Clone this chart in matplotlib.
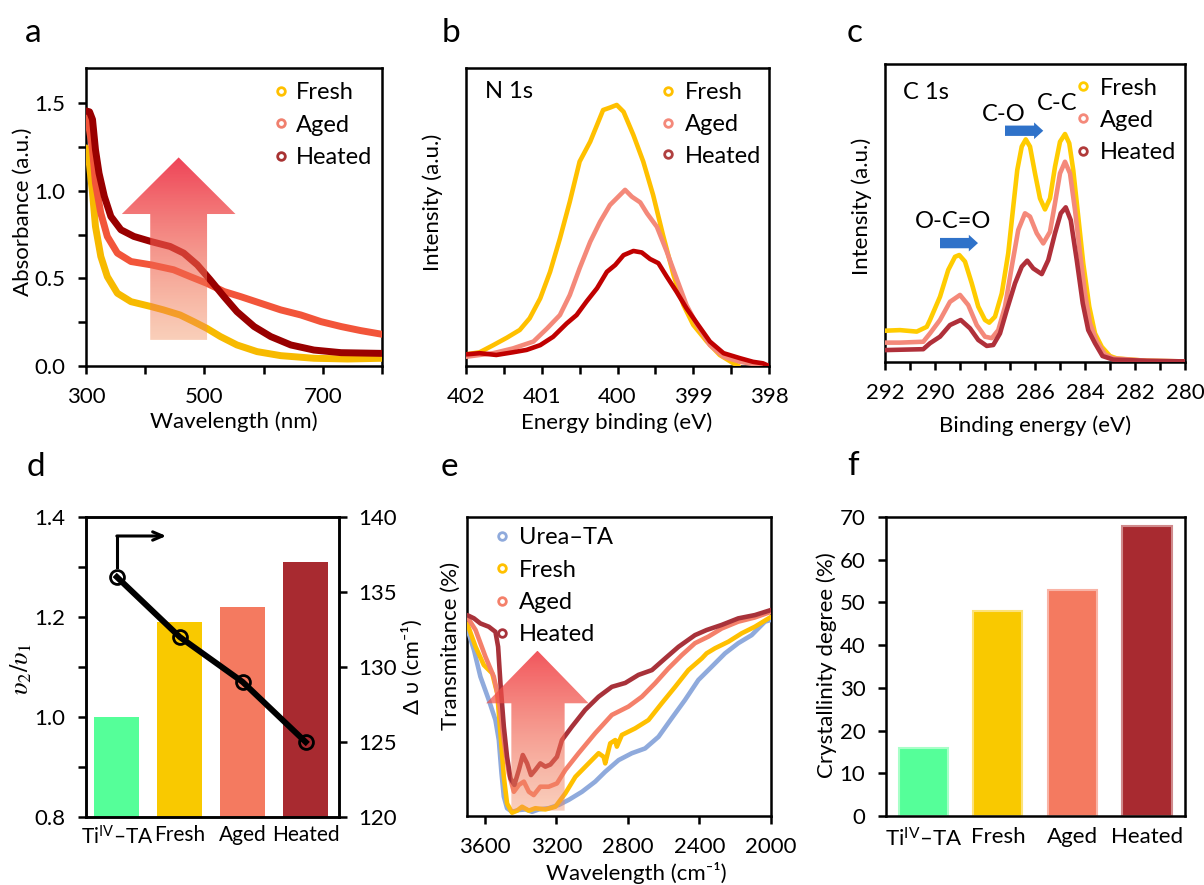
import numpy as np
import matplotlib
matplotlib.use('Agg')
import matplotlib.pyplot as plt
from matplotlib.patches import Polygon
from matplotlib.ticker import MultipleLocator, FixedLocator

plt.rcParams['font.family'] = ['Lato', 'DejaVu Sans']
plt.rcParams['mathtext.fontset'] = 'custom'
plt.rcParams['mathtext.rm'] = 'Lato'
plt.rcParams['mathtext.it'] = 'Lato:italic'
plt.rcParams['mathtext.bf'] = 'Lato:bold'

# ---------------- data ----------------
# (a) UV-vis absorbance
a_wl_fresh = [300, 305, 311, 316, 325, 336, 353, 376, 410, 431, 459, 482, 504, 527, 555, 589, 629, 685, 742, 800]
a_abs_fresh = [1.244, 1.177, 0.987, 0.796, 0.625, 0.51, 0.415, 0.367, 0.339, 0.32, 0.291, 0.253, 0.215, 0.168, 0.12, 0.082, 0.059, 0.044, 0.04, 0.044]
a_wl_aged = [300, 305, 311, 316, 325, 336, 353, 376, 410, 448, 476, 504, 533, 561, 595, 629, 663, 697, 731, 764, 800]
a_abs_aged = [1.425, 1.367, 1.234, 1.044, 0.872, 0.739, 0.644, 0.596, 0.577, 0.549, 0.51, 0.472, 0.425, 0.396, 0.358, 0.32, 0.291, 0.253, 0.225, 0.202, 0.181]
a_wl_heated = [300, 306, 311, 316, 322, 331, 342, 359, 381, 410, 442, 465, 488, 510, 533, 555, 584, 612, 646, 685, 731, 800]
a_abs_heated = [1.455, 1.45, 1.406, 1.234, 1.1, 0.967, 0.853, 0.777, 0.739, 0.71, 0.682, 0.644, 0.577, 0.491, 0.396, 0.31, 0.225, 0.168, 0.12, 0.091, 0.076, 0.072]

# (b) XPS N 1s
b_e_fresh = [402.0, 401.82, 401.64, 401.46, 401.29, 401.16, 401.02, 400.89, 400.76, 400.63, 400.5, 400.36, 400.27, 400.19, 400.1, 400.01, 399.92, 399.79, 399.66, 399.53, 399.4, 399.26, 399.13, 399.0, 398.82, 398.65, 398.47, 398.4]
b_i_fresh = [0.039, 0.046, 0.07, 0.095, 0.121, 0.16, 0.227, 0.316, 0.428, 0.551, 0.686, 0.753, 0.809, 0.859, 0.867, 0.876, 0.853, 0.775, 0.686, 0.574, 0.44, 0.305, 0.205, 0.138, 0.082, 0.037, 0.009, 0.0]
b_e_aged = [402.0, 401.64, 401.38, 401.11, 400.93, 400.76, 400.63, 400.5, 400.36, 400.23, 400.1, 399.99, 399.9, 399.81, 399.7, 399.61, 399.48, 399.35, 399.22, 399.09, 398.95, 398.78, 398.6, 398.38, 398.12, 398.0]
b_i_aged = [0.031, 0.043, 0.059, 0.082, 0.126, 0.171, 0.238, 0.328, 0.417, 0.484, 0.54, 0.568, 0.591, 0.568, 0.549, 0.512, 0.467, 0.384, 0.294, 0.205, 0.138, 0.07, 0.031, 0.014, 0.003, 0.0]
b_e_heated = [402.0, 401.82, 401.6, 401.38, 401.2, 401.02, 400.85, 400.67, 400.54, 400.41, 400.27, 400.14, 400.03, 399.92, 399.79, 399.68, 399.57, 399.46, 399.35, 399.22, 399.09, 398.95, 398.78, 398.6, 398.38, 398.21, 398.08, 398.0]
b_i_heated = [0.039, 0.043, 0.037, 0.046, 0.054, 0.07, 0.098, 0.143, 0.171, 0.216, 0.261, 0.316, 0.339, 0.372, 0.386, 0.381, 0.359, 0.345, 0.3, 0.249, 0.194, 0.143, 0.082, 0.043, 0.026, 0.014, 0.009, 0.0]

# (c) XPS C 1s
c_e_fresh = [292, 291.4, 290.73, 290.33, 290.2, 289.8, 289.47, 289.2, 289.03, 288.8, 288.53, 288.27, 288.0, 287.83, 287.6, 287.33, 287.07, 286.87, 286.71, 286.53, 286.37, 286.2, 286.0, 285.8, 285.6, 285.4, 285.2, 285.0, 284.8, 284.63, 284.47, 284.27, 284.07, 283.83, 283.6, 283.33, 283.0, 282.73, 281.53, 280]
c_i_fresh = [0.105, 0.107, 0.102, 0.118, 0.141, 0.219, 0.309, 0.353, 0.359, 0.337, 0.264, 0.186, 0.141, 0.132, 0.152, 0.23, 0.365, 0.521, 0.644, 0.723, 0.747, 0.723, 0.633, 0.549, 0.512, 0.549, 0.655, 0.739, 0.765, 0.734, 0.644, 0.488, 0.331, 0.186, 0.096, 0.051, 0.02, 0.012, 0.004, 0.002]
c_e_aged = [292, 291.4, 290.47, 290.2, 289.8, 289.4, 289.0, 288.67, 288.33, 288.0, 287.73, 287.47, 287.2, 286.93, 286.67, 286.4, 286.2, 285.93, 285.67, 285.4, 285.2, 285.0, 284.8, 284.6, 284.4, 284.2, 284.0, 283.8, 283.53, 283.2, 282.87, 281.53, 280]
c_i_aged = [0.065, 0.065, 0.068, 0.096, 0.141, 0.202, 0.225, 0.191, 0.124, 0.085, 0.08, 0.107, 0.186, 0.32, 0.443, 0.499, 0.488, 0.432, 0.398, 0.437, 0.533, 0.633, 0.672, 0.633, 0.51, 0.365, 0.23, 0.13, 0.068, 0.025, 0.012, 0.004, 0.002]
c_e_heated = [292, 290.47, 290.2, 289.8, 289.4, 288.97, 288.6, 288.27, 287.93, 287.67, 287.4, 287.13, 286.8, 286.53, 286.31, 286.07, 285.73, 285.47, 285.2, 284.97, 284.77, 284.57, 284.33, 284.09, 283.87, 283.6, 283.3, 282.87, 281.53, 280]
c_i_heated = [0.04, 0.043, 0.063, 0.085, 0.124, 0.141, 0.113, 0.074, 0.054, 0.057, 0.096, 0.174, 0.264, 0.32, 0.34, 0.314, 0.295, 0.342, 0.432, 0.499, 0.519, 0.476, 0.342, 0.197, 0.107, 0.063, 0.02, 0.008, 0.004, 0.002]

# (d) ratio bars + delta nu
categories = ['Ti$^{\\mathrm{IV}}$–TA', 'Fresh', 'Aged', 'Heated']
ratio_v2_v1 = [1.0, 1.19, 1.22, 1.31]
delta_nu = [136, 132, 129, 125]

# (e) FTIR
e_w_urea = [3699, 3661, 3625, 3578, 3541, 3522, 3507, 3494, 3476, 3448, 3410, 3373, 3336, 3299, 3243, 3187, 3131, 3057, 2983, 2927, 2852, 2778, 2704, 2629, 2555, 2481, 2406, 2332, 2257, 2183, 2108, 2034, 2000]
e_t_urea = [0.628, 0.555, 0.466, 0.388, 0.321, 0.254, 0.143, 0.065, 0.026, 0.014, 0.02, 0.022, 0.014, 0.022, 0.026, 0.037, 0.054, 0.081, 0.115, 0.148, 0.187, 0.21, 0.226, 0.265, 0.327, 0.388, 0.455, 0.499, 0.544, 0.578, 0.605, 0.65, 0.656]
e_w_fresh = [3699, 3652, 3606, 3559, 3531, 3513, 3494, 3476, 3448, 3420, 3392, 3354, 3318, 3262, 3206, 3150, 3094, 3020, 2964, 2936, 2927, 2899, 2871, 2862, 2834, 2760, 2685, 2611, 2536, 2462, 2387, 2360, 2313, 2238, 2164, 2090, 2000]
e_t_fresh = [0.644, 0.566, 0.505, 0.477, 0.41, 0.277, 0.131, 0.042, 0.011, 0.018, 0.031, 0.018, 0.026, 0.022, 0.031, 0.076, 0.131, 0.176, 0.21, 0.198, 0.176, 0.243, 0.254, 0.232, 0.271, 0.293, 0.321, 0.377, 0.432, 0.488, 0.527, 0.544, 0.561, 0.583, 0.611, 0.633, 0.666]
e_w_aged = [3699, 3652, 3597, 3550, 3522, 3494, 3466, 3438, 3410, 3382, 3354, 3327, 3290, 3243, 3197, 3150, 3076, 2983, 2890, 2797, 2722, 2648, 2573, 2499, 2425, 2350, 2276, 2183, 2090, 2000]
e_t_aged = [0.666, 0.622, 0.533, 0.466, 0.388, 0.254, 0.143, 0.081, 0.104, 0.115, 0.081, 0.07, 0.098, 0.098, 0.109, 0.154, 0.21, 0.277, 0.338, 0.366, 0.399, 0.444, 0.494, 0.538, 0.578, 0.6, 0.627, 0.65, 0.664, 0.683]
e_w_heated = [3699, 3661, 3625, 3578, 3541, 3526, 3513, 3494, 3476, 3457, 3435, 3410, 3388, 3364, 3342, 3318, 3290, 3262, 3234, 3197, 3169, 3113, 3039, 2964, 2890, 2815, 2741, 2666, 2592, 2517, 2425, 2360, 2276, 2183, 2090, 2000]
e_t_heated = [0.672, 0.661, 0.644, 0.633, 0.616, 0.566, 0.444, 0.299, 0.198, 0.126, 0.104, 0.154, 0.204, 0.176, 0.137, 0.154, 0.176, 0.165, 0.172, 0.198, 0.254, 0.299, 0.355, 0.399, 0.432, 0.445, 0.472, 0.488, 0.527, 0.566, 0.605, 0.622, 0.639, 0.661, 0.672, 0.689]

# (f) crystallinity
crystallinity = [16, 48, 53, 68]

# ---------------- styling ----------------
W, H = 1204, 885
FS = 16
LFS = 17
LW_SP = 1.8
TL = 5.8

fig = plt.figure(figsize=(W / 100, H / 100), dpi=100)


def px_axes(l, t, r, b):
    return fig.add_axes([l / W, 1 - b / H, (r - l) / W, (b - t) / H])


def style(ax):
    for s in ax.spines.values():
        s.set_linewidth(LW_SP)
    ax.tick_params(which='both', direction='out', length=TL, width=LW_SP,
                   labelsize=FS, pad=6)


def ftext(x, y, s, **kw):
    kw.setdefault('fontsize', FS)
    return fig.text(x / W, 1 - y / H, s, **kw)


def manual_legend(ax, items, xm, xt, ys, fs=LFS):
    for (lab, col), y in zip(items, ys):
        ax.plot([xm], [y], 'o', transform=ax.transAxes, mfc='none', mec=col,
                mew=2.0, ms=5.5, clip_on=False, zorder=10)
        ax.text(xt, y, lab, transform=ax.transAxes, ha='left',
                va='center_baseline', fontsize=fs, zorder=10)


def grad_arrow(ax, verts, top, bot, zorder=6):
    xs = [v[0] for v in verts]
    ys = [v[1] for v in verts]
    n = 256
    t = np.linspace(0, 1, n)[:, None]
    top = np.array(top)
    bot = np.array(bot)
    img = (top[None, :] * (1 - t) + bot[None, :] * t)[:, None, :]
    xl, yl = ax.get_xlim(), ax.get_ylim()
    im = ax.imshow(img, extent=[min(xs), max(xs), min(ys), max(ys)],
                   origin='upper', aspect='auto', zorder=zorder,
                   interpolation='bilinear')
    poly = Polygon(verts, closed=True, transform=ax.transData)
    im.set_clip_path(poly)
    ax.set_xlim(xl)
    ax.set_ylim(yl)


def letter(x, y, s):
    ftext(x, y, s, fontsize=24, ha='left', va='baseline')


# ---------------- (a) ----------------
ax = px_axes(86, 68, 382, 366)
style(ax)
kw_a = dict(lw=5, solid_capstyle='round', solid_joinstyle='round')
ax.plot(a_wl_fresh, a_abs_fresh, color='#F7BA00', zorder=3, **kw_a)
ax.plot(a_wl_aged, a_abs_aged, color='#F2553A', zorder=3, **kw_a)
ax.plot(a_wl_heated, a_abs_heated, color='#990000', zorder=4, **kw_a)
ax.set_xlim(300, 800)
ax.set_ylim(0, 1.7)
ax.xaxis.set_major_locator(FixedLocator([300, 500, 700]))
ax.xaxis.set_minor_locator(FixedLocator([400, 600, 800]))
ax.yaxis.set_major_locator(FixedLocator([0, 0.5, 1.0, 1.5]))
ax.yaxis.set_minor_locator(FixedLocator([0.25, 0.75, 1.25]))
ax.yaxis.set_major_formatter(matplotlib.ticker.FormatStrFormatter('%.1f'))
ax.tick_params(axis='x', pad=9)
ax.tick_params(axis='y', pad=9)
grad_arrow(ax, [(408.5, 0.149), (408.5, 0.867), (360.5, 0.867), (456.5, 1.19),
                (552.5, 0.867), (504.5, 0.867), (504.5, 0.149)],
           (0.93, 0.16, 0.25, 0.88), (0.95, 0.55, 0.35, 0.42))
manual_legend(ax, [('Fresh', '#FFC000'), ('Aged', '#F0806E'), ('Heated', '#A83232')],
              0.659, 0.709, [0.924, 0.814, 0.706])
letter(25, 42, 'a')
ftext(23, 212, 'Absorbance (a.u.)', rotation=90, ha='center', va='center')
ftext(234, 422, 'Wavelength (nm)', ha='center', va='center')

# ---------------- (b) ----------------
ax = px_axes(466, 68, 769, 366)
style(ax)
kw_l = dict(lw=3.3, solid_joinstyle='round', solid_capstyle='round')
ax.plot(b_e_fresh, b_i_fresh, color='#FFC000', zorder=3, **kw_l)
ax.plot(b_e_aged, b_i_aged, color='#F4897A', zorder=3, **kw_l)
ax.plot(b_e_heated, b_i_heated, color='#C00000', zorder=4, **kw_l)
ax.set_xlim(402, 398)
ax.set_ylim(0, 1)
ax.xaxis.set_major_locator(MultipleLocator(1))
ax.xaxis.set_minor_locator(MultipleLocator(0.5))
ax.set_yticks([])
ax.tick_params(axis='x', pad=9)
ax.text(0.063, 0.92, 'N 1s', transform=ax.transAxes, fontsize=LFS, ha='left', va='center')
manual_legend(ax, [('Fresh', '#FFC000'), ('Aged', '#F4897A'), ('Heated', '#B04040')],
              0.668, 0.723, [0.924, 0.816, 0.71])
letter(442, 42, 'b')
ftext(433, 202, 'Intensity (a.u.)', rotation=90, ha='center', va='center')
ftext(617, 423, 'Energy binding (eV)', ha='center', va='center')

# ---------------- (c) ----------------
ax = px_axes(885, 64, 1185, 362)
style(ax)
ax.plot(c_e_fresh, c_i_fresh, color='#FFCC00', zorder=3, **kw_l)
ax.plot(c_e_aged, c_i_aged, color='#F4897A', zorder=3, **kw_l)
ax.plot(c_e_heated, c_i_heated, color='#B0303A', zorder=4, **kw_l)
ax.set_xlim(292, 280)
ax.set_ylim(0, 1)
ax.xaxis.set_major_locator(MultipleLocator(2))
ax.xaxis.set_minor_locator(MultipleLocator(1))
ax.set_yticks([])
ax.tick_params(axis='x', pad=9)
ax.text(0.06, 0.906, 'C 1s', transform=ax.transAxes, fontsize=LFS, ha='left', va='center')
ax.text(289.28, 0.47, 'O-C=O', fontsize=LFS, ha='center', va='center')
ax.text(287.24, 0.829, 'C-O', fontsize=LFS, ha='center', va='center')
ax.text(285.13, 0.868, 'C-C', fontsize=LFS, ha='center', va='center')
blue = '#2F72C9'
for (x0, x1, yy) in [(289.8, 288.28, 0.399), (287.2, 285.67, 0.776)]:
    ax.annotate('', xy=(x1, yy), xytext=(x0, yy),
                arrowprops=dict(arrowstyle='simple,tail_width=0.62,head_width=1.0,head_length=0.55',
                                mutation_scale=12, color=blue, shrinkA=0, shrinkB=0, lw=0))
manual_legend(ax, [('Fresh', '#FFCC00'), ('Aged', '#F4897A'), ('Heated', '#B03A3A')],
              0.659, 0.717, [0.926, 0.818, 0.709])
letter(847, 42, 'c')
ftext(862, 206, 'Intensity (a.u.)', rotation=90, ha='center', va='center')
ftext(1035, 426, 'Binding energy (eV)', ha='center', va='center')

# ---------------- (d) ----------------
bar_cols = ['#55FF99', '#F9C900', '#F47A60', '#A82A30']
ax = px_axes(86, 517, 339, 817)
style(ax)
x = np.arange(len(categories))
ax.bar(x, [r - 0.8 for r in ratio_v2_v1], bottom=0.8, width=0.71, color=bar_cols, zorder=2)
ax.set_xlim(-0.49, 3.53)
ax.set_ylim(0.8, 1.4)
ax.yaxis.set_major_locator(MultipleLocator(0.2))
ax.yaxis.set_minor_locator(MultipleLocator(0.1))
ax.yaxis.set_major_formatter(matplotlib.ticker.FormatStrFormatter('%.1f'))
ax.set_xticks(x)
ax.set_xticklabels(categories, fontsize=15)
ax.tick_params(axis='x', length=0, pad=6)
ax.tick_params(axis='y', pad=9)
lbls = ax.get_xticklabels()
lbls[0].set_x(-0.04)
ax2 = ax.twinx()
style(ax2)
ax2.plot(x, delta_nu, color='black', lw=4.3, zorder=5, marker='o', ms=10,
         mfc='none', mec='black', mew=2)
ax2.set_ylim(120, 140)
ax2.yaxis.set_major_locator(MultipleLocator(5))
ax2.tick_params(axis='y', pad=8)
# elbow arrow pointing to right axis
ax.annotate('', xy=(0.785, 1.362), xytext=(0.0, 1.362),
            arrowprops=dict(arrowstyle='->,head_length=0.7,head_width=0.3', lw=2.2,
                            color='black', shrinkA=0, shrinkB=0))
ax.plot([0.0, 0.0], [1.30, 1.362], color='black', lw=2.2, solid_capstyle='projecting', zorder=6)
letter(27, 476, 'd')
ftext(21, 669, r'$\upsilon_2/\upsilon_1$', rotation=90, ha='center', va='center',
      math_fontfamily='stix', fontsize=19)
ftext(412, 667, 'Δ υ (cm⁻¹)', rotation=90, ha='center', va='center')

# ---------------- (e) ----------------
ax = px_axes(467, 517, 771, 816)
style(ax)
ax.plot(e_w_urea, e_t_urea, color='#8FAADC', zorder=3, **kw_l)
ax.plot(e_w_fresh, e_t_fresh, color='#FFC000', zorder=3, **kw_l)
ax.plot(e_w_aged, e_t_aged, color='#F4806A', zorder=3, **kw_l)
ax.plot(e_w_heated, e_t_heated, color='#A8323A', zorder=4, **kw_l)
ax.set_xlim(3700, 2000)
ax.set_ylim(0, 1)
ax.xaxis.set_major_locator(FixedLocator([3600, 3200, 2800, 2400, 2000]))
ax.set_yticks([])
ax.tick_params(axis='x', pad=9)
grad_arrow(ax, [(3452, 0.018), (3452, 0.377), (3593, 0.377), (3306, 0.553),
                (3020, 0.377), (3154, 0.377), (3154, 0.018)],
           (0.94, 0.22, 0.25, 0.85), (0.95, 0.55, 0.38, 0.42))
manual_legend(ax, [('Urea–TA', '#8FAADC'), ('Fresh', '#FFC000'), ('Aged', '#F4806A'),
                   ('Heated', '#A8323A')],
              0.116, 0.171, [0.9375, 0.828, 0.72, 0.613])
letter(441, 476, 'e')
ftext(451, 646, 'Transmitance (%)', rotation=90, ha='center', va='center')
ftext(636, 884, 'Wavelength (cm⁻¹)', ha='center', va='bottom')

# ---------------- (f) ----------------
edge_cols = ['#A8FFC8', '#FCE27A', '#F9B4A6', '#D08A8C']
ax = px_axes(886, 517, 1185, 816)
style(ax)
ax.bar(x, crystallinity, width=0.66, color=bar_cols, edgecolor=edge_cols, linewidth=1.5, zorder=2)
ax.set_xlim(-0.5, 3.51)
ax.set_ylim(0, 70)
ax.yaxis.set_major_locator(MultipleLocator(10))
ax.set_xticks(x)
ax.set_xticklabels(categories)
ax.tick_params(axis='x', length=0, pad=8)
ax.tick_params(axis='y', pad=9)
letter(847, 475, 'f')
ftext(827, 665, 'Crystallinity degree (%)', rotation=90, ha='center', va='center')

fig.savefig('out.png', dpi=100)
